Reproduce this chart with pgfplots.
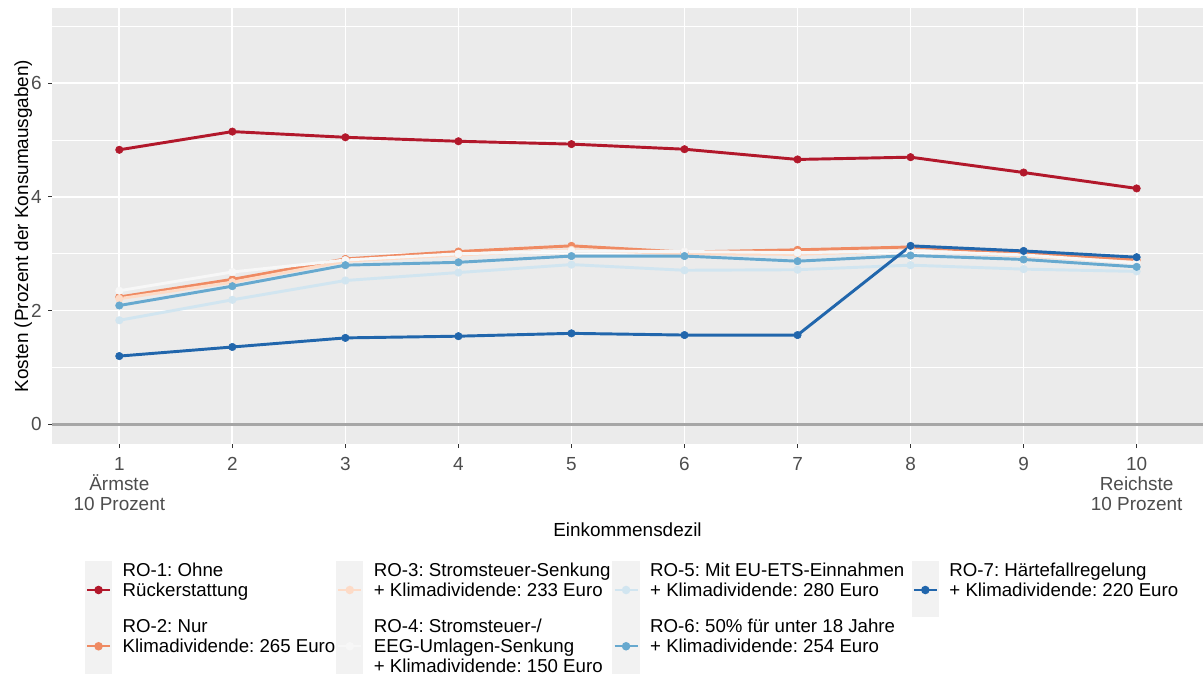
\documentclass[border=0pt]{standalone}
\usepackage{pgfplots}
\pgfplotsset{compat=1.18}
\usepackage{pgfplotstable}
\usepackage{fontspec}
\setmainfont{Liberation Sans}
\frenchspacing
\definecolor{roA}{HTML}{B2182B}
\definecolor{roB}{HTML}{EF8A62}
\definecolor{roC}{HTML}{FDDBC7}
\definecolor{roD}{HTML}{F7F7F7}
\definecolor{roE}{HTML}{D1E5F0}
\definecolor{roF}{HTML}{67A9CF}
\definecolor{roG}{HTML}{2166AC}
\definecolor{panelbg}{HTML}{EBEBEB}
\definecolor{keybg}{HTML}{F2F2F2}
\definecolor{ticktext}{HTML}{4D4D4D}
\definecolor{tickmark}{HTML}{333333}
\definecolor{zeroline}{HTML}{A6A6A6}
\pgfplotstableread{
x  ro1  ro2  ro3  ro4  ro5  ro6  ro7
1  4.83 2.24 2.21 2.35 1.83 2.09 1.20
2  5.15 2.55 2.50 2.68 2.19 2.43 1.36
3  5.05 2.91 2.87 2.89 2.53 2.80 1.52
4  4.98 3.04 2.98 3.00 2.67 2.85 1.55
5  4.93 3.14 3.07 3.05 2.81 2.96 1.60
6  4.84 3.03 3.00 3.04 2.71 2.96 1.57
7  4.66 3.07 2.99 3.02 2.72 2.87 1.57
8  4.70 3.12 3.06 3.05 2.80 2.97 3.14
9  4.43 3.01 2.96 2.98 2.73 2.90 3.05
10 4.15 2.89 2.85 2.84 2.69 2.77 2.94
}\data
\newcommand{\tfont}{\fontsize{14.2pt}{14.8pt}\selectfont\frenchspacing}
\newcommand{\lentry}[3]{\parbox[t]{#1}{\mbox{#2}\\\mbox{#3}}}
\newcommand{\lentrythree}[4]{\parbox[t]{#1}{\mbox{#2}\\\mbox{#3}\\\mbox{#4}}}
\begin{document}
\begin{tikzpicture}
\path[use as bounding box] (0,0) rectangle (902.25pt,506.25pt);
\begin{axis}[
  at={(39pt,173.25pt)}, anchor=south west,
  width=863.25pt, height=327pt, scale only axis,
  xmin=0.4046, xmax=10.587, ymin=-0.347, ymax=7.325,
  axis background/.style={fill=panelbg},
  axis x line*=bottom, axis y line*=left,
  axis line style={draw=none},
  tick align=outside,
  major tick length=3pt,
  minor tick length=0pt,
  tick style={color=tickmark, line width=0.75pt},
  xtick={1,2,3,4,5,6,7,8,9,10},
  xticklabels={{1\\Ärmste\\10 Prozent},2,3,4,5,6,7,8,9,{10\\Reichste\\10 Prozent}},
  ytick={0,2,4,6},
  minor ytick={1,3,5,7},
  grid=major,
  yminorgrids=true,
  major grid style={white, line width=1.3pt},
  minor grid style={white, line width=0.65pt},
  /pgf/number format/assume math mode=true,
  xticklabel style={font=\tfont, color=ticktext, align=center, anchor=north, inner sep=0pt, yshift=-7pt},
  yticklabel style={font=\tfont, color=ticktext, anchor=east, inner sep=0pt, xshift=-4.5pt},
  xlabel={Einkommensdezil},
  ylabel={Kosten (Prozent der Konsumausgaben)},
  xlabel style={at={(axis description cs:0.5,-0.196)}, anchor=center, inner sep=0pt, font=\tfont},
  ylabel style={at={(axis description cs:-0.02500,0.5)}, anchor=center, inner sep=0pt, rotate=0, font=\tfont},
  legend columns=4,
  legend cell align=left,
  legend style={at={(0.0286,-0.26835)}, anchor=north west, draw=none, fill=none,
    inner sep=0pt, outer sep=0pt, column sep=0pt, row sep=0pt,
    font=\fontsize{14pt}{15.2pt}\selectfont\frenchspacing,
    cells={anchor=base west}, nodes={inner sep=0pt, text depth={}}},
  legend image code/.code={
    \fill[keybg] (0pt,-30pt) rectangle (18.75pt,10.5pt);
    \path (26.6pt,0pt);
    \draw[mark repeat=2, mark phase=2, #1] plot coordinates {(0.75pt,-10.4pt) (9.375pt,-10.4pt) (18pt,-10.4pt)};
  },
]
\addplot[zeroline, line width=2pt, no markers, forget plot] coordinates {(0.3,0) (10.7,0)};
% lines
\addplot[roA, line width=2.2pt, line join=round, no markers, forget plot] table[x=x,y=ro1]{\data};
\addplot[roB, line width=2.2pt, line join=round, no markers, forget plot] table[x=x,y=ro2]{\data};
\addplot[roC, line width=2.2pt, line join=round, no markers, forget plot] table[x=x,y=ro3]{\data};
\addplot[roD, line width=2.2pt, line join=round, no markers, forget plot] table[x=x,y=ro4]{\data};
\addplot[roE, line width=2.2pt, line join=round, no markers, forget plot] table[x=x,y=ro5]{\data};
\addplot[roF, line width=2.2pt, line join=round, no markers, forget plot] table[x=x,y=ro6]{\data};
\addplot[roG, line width=2.2pt, line join=round, no markers, forget plot] table[x=x,y=ro7]{\data};
% points
\addplot[roA, only marks, mark=*, mark size=2.8pt, forget plot] table[x=x,y=ro1]{\data};
\addplot[roB, only marks, mark=*, mark size=2.8pt, forget plot] table[x=x,y=ro2]{\data};
\addplot[roC, only marks, mark=*, mark size=2.8pt, forget plot] table[x=x,y=ro3]{\data};
\addplot[roD, only marks, mark=*, mark size=2.8pt, forget plot] table[x=x,y=ro4]{\data};
\addplot[roE, only marks, mark=*, mark size=2.8pt, forget plot] table[x=x,y=ro5]{\data};
\addplot[roF, only marks, mark=*, mark size=2.8pt, forget plot] table[x=x,y=ro6]{\data};
\addplot[roG, only marks, mark=*, mark size=2.8pt, forget plot] table[x=x,y=ro7]{\data};
% legend (row-wise order reproduces column-wise layout)
\addlegendimage{roA, line width=1.7pt, mark=*, mark size=2.3pt}
\addlegendentry{\lentry{160.15pt}{RO-1: Ohne}{Rückerstattung}}
\addlegendimage{roC, line width=1.7pt, mark=*, mark size=2.3pt}
\addlegendentry{\lentry{178.9pt}{RO-3: Stromsteuer-Senkung}{+ Klimadividende: 233 Euro}}
\addlegendimage{roE, line width=1.7pt, mark=*, mark size=2.3pt}
\addlegendentry{\lentry{196.15pt}{RO-5: Mit EU-ETS-Einnahmen}{+ Klimadividende: 280 Euro}}
\addlegendimage{roG, line width=1.7pt, mark=*, mark size=2.3pt}
\addlegendentry{\lentry{170pt}{RO-7: Härtefallregelung}{+ Klimadividende: 220 Euro}}
\addlegendimage{roB, line width=1.7pt, mark=*, mark size=2.3pt}
\addlegendentry{\lentry{160.15pt}{RO-2: Nur}{Klimadividende: 265 Euro}}
\addlegendimage{roD, line width=1.7pt, mark=*, mark size=2.3pt}
\addlegendentry{\lentrythree{178.9pt}{RO-4: Stromsteuer-/}{EEG-Umlagen-Senkung}{+ Klimadividende: 150 Euro}}
\addlegendimage{roF, line width=1.7pt, mark=*, mark size=2.3pt}
\addlegendentry{\lentry{196.15pt}{RO-6: 50\% für unter 18 Jahre}{+ Klimadividende: 254 Euro}}
\end{axis}
\end{tikzpicture}
\end{document}
